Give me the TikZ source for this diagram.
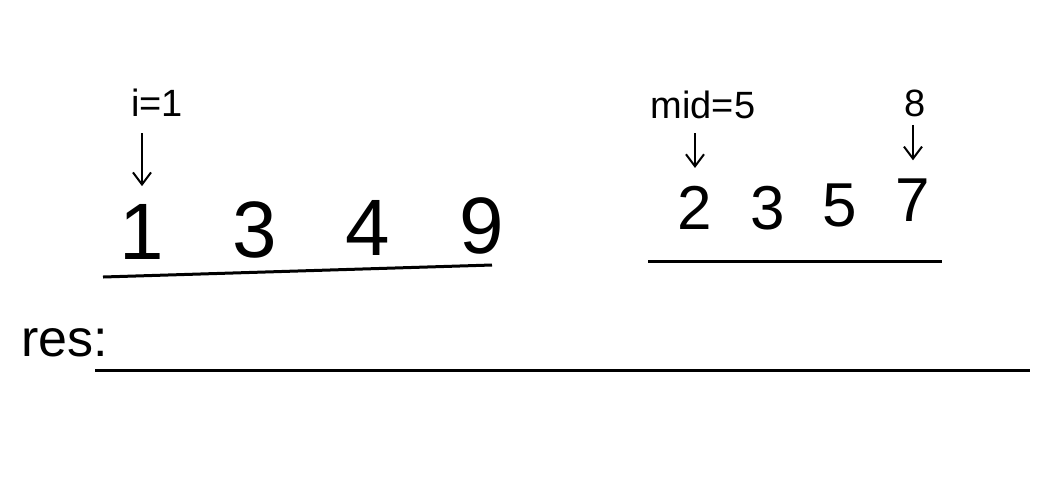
\documentclass[tikz,border=0pt]{standalone}
\usepackage{fontspec}
\setmainfont{Liberation Sans}
\usetikzlibrary{arrows.meta}

\begin{document}
\begin{tikzpicture}[
    x=0.5pt,
    y=-0.5pt,
    bigdigit/.style={font=\fontsize{40}{44}\selectfont, inner sep=0pt},
    smalldigit/.style={font=\fontsize{31}{34}\selectfont, inner sep=0pt},
    pointerlabel/.style={font=\fontsize{19}{22}\selectfont, inner sep=0pt},
    pointer/.style={black, line width=1pt, -{Straight Barb[length=6pt, width=9pt]}},
    baseline/.style={black, line width=1.5pt},
    reslabel/.style={font=\fontsize{26}{30}\selectfont, inner sep=0pt}
]

% -------------------------------------------------------------------------
% Canvas
% -------------------------------------------------------------------------
\useasboundingbox (0,0) rectangle (1050,500);

% -------------------------------------------------------------------------
% Left array
% -------------------------------------------------------------------------
\node[ bigdigit ] (n1) at (142,232) {1};
\node[ bigdigit ] (n3) at (255,230) {3};
\node[ bigdigit ] (n4) at (368,228) {4};
\node[ bigdigit ] (n9) at (482,226) {9};

\coordinate (left-start) at (103,277);
\coordinate (left-end)   at (492,265);
\draw[ baseline ] (left-start) -- (left-end);

% pointer i
\node[ pointerlabel ] (ilabel) at (157,103) {i=1};
\draw[ pointer, shorten <=8pt, shorten >=9pt ]
    (ilabel.south -| n1) -- (n1.north);

% -------------------------------------------------------------------------
% Right array
% -------------------------------------------------------------------------
\node[ smalldigit ] (m2) at (695,208) {2};
\node[ smalldigit ] (m3) at (768,208) {3};
\node[ smalldigit ] (m5) at (840,205) {5};
\node[ smalldigit ] (m7) at (913,200) {7};

\coordinate (right-start) at (648,261);
\coordinate (right-end)   at (942,261);
\draw[ baseline ] (right-start) -- (right-end);

% pointer mid
\node[ pointerlabel ] (midlabel) at (703,105) {mid=5};
\draw[ pointer, shorten <=7pt, shorten >=9pt ]
    (midlabel.south -| m2) -- (m2.north);

% pointer at 8
\node[ pointerlabel ] (eight) at (915,103) {8};
\draw[ pointer, shorten <=4pt, shorten >=9pt ]
    (eight.south -| m7) -- (m7.north);

% -------------------------------------------------------------------------
% Result line
% -------------------------------------------------------------------------
\node[ reslabel ] (res) at (65,343) {res:};

\coordinate (res-start) at (95,370);
\coordinate (res-end)   at (1030,370);
\draw[ baseline ] (res-start) -- (res-end);

\end{tikzpicture}
\end{document}
